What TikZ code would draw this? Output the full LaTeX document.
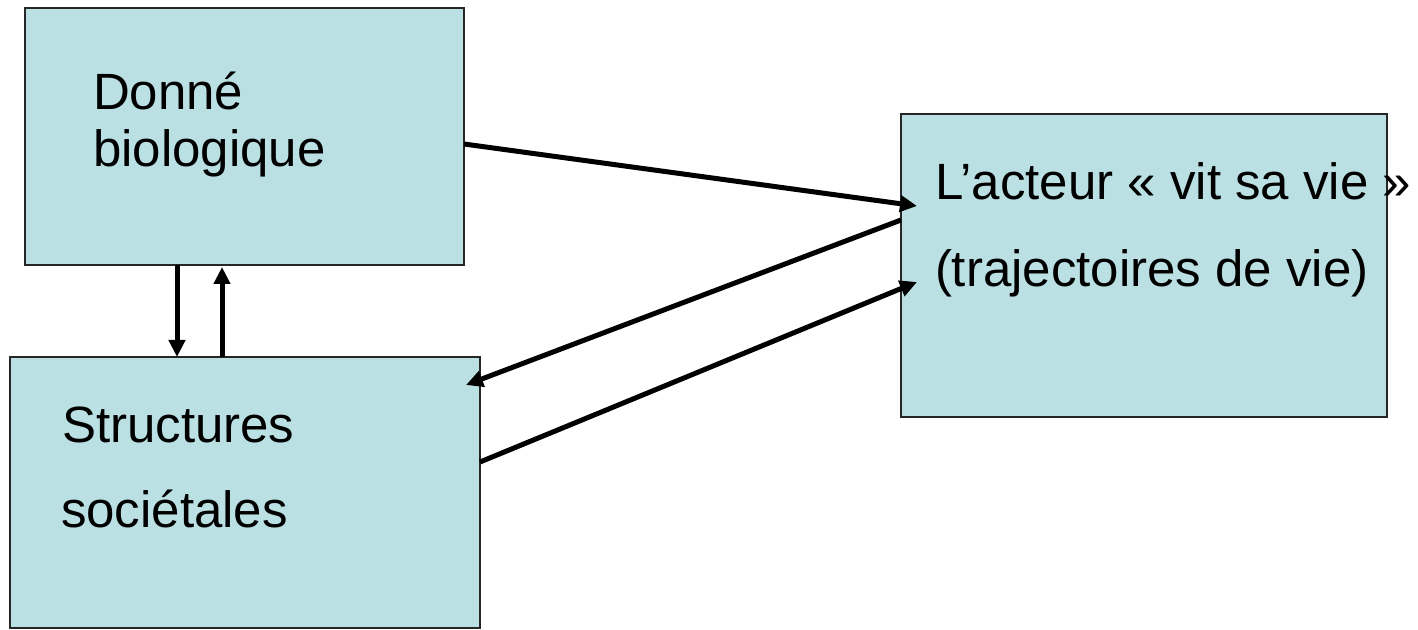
\documentclass[tikz,border=0pt]{standalone}
\usepackage{fontspec}
\setmainfont{Liberation Sans}
\usetikzlibrary{arrows.meta}
\definecolor{boxfill}{RGB}{187,224,227}
\begin{document}
\begin{tikzpicture}[x=1pt,y=1pt,
  boxnode/.style={draw=black!85,line width=2pt,fill=boxfill,inner sep=0pt,outer sep=0pt},
  lbl/.style={inner sep=0pt,outer sep=0pt,anchor=base west,font=\fontsize{51}{57}\selectfont},
  conn/.style={line width=5pt,-{Triangle[length=17pt,width=16pt]}}]
\useasboundingbox (0,0) rectangle (1418,629);
\node[boxnode,minimum width=439pt,minimum height=257pt] (A) at (244.5,492.5) {};
\node[boxnode,minimum width=470pt,minimum height=271pt] (B) at (245,136.5) {};
\node[boxnode,minimum width=486pt,minimum height=303pt] (C) at (1144,363.5) {};
\node[lbl] (a1) at (93,519) {Donné};
\node[lbl] (a2) at (93,462) {biologique};
\node[lbl] (b1) at (62,186) {Structures};
\node[lbl] (b2) at (61,101) {sociétales};
\node[lbl] (c1) at (935,429) {L’acteur « vit sa vie »};
\node[lbl] (c2) at (935,342) {(trajectoires de vie)};
\draw[conn] ([yshift=-7.5pt]A.east) -- ([xshift=16pt,yshift=59.5pt]C.west);
\draw[conn] ([yshift=45.5pt]C.west) -- ([xshift=-14pt,yshift=107.5pt]B.east);
\draw[conn] ([yshift=30.5pt]B.east) -- ([xshift=16pt,yshift=-16.5pt]C.west);
\draw[conn] ([xshift=-67.5pt]A.south) -- ([xshift=-68pt]B.north);
\draw[conn] ([xshift=-23pt]B.north) -- ([xshift=-22.5pt,yshift=-2pt]A.south);
\end{tikzpicture}
\end{document}
